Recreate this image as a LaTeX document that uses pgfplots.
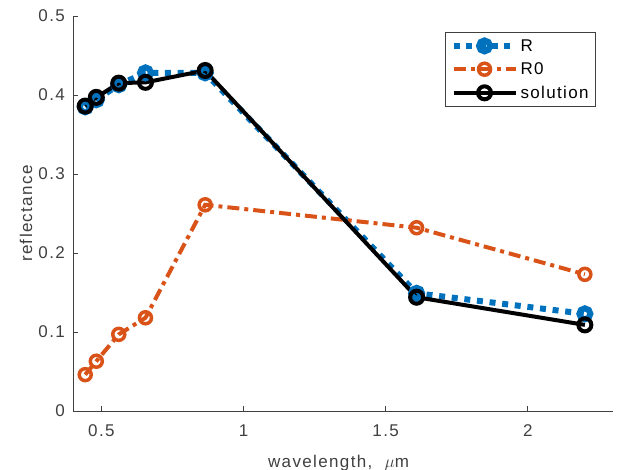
\documentclass[border=0pt]{standalone}
\usepackage{fontspec}
\setmainfont[LetterSpace=8]{Liberation Sans}
\usepackage{pgfplots}
\pgfplotsset{compat=1.18}
\definecolor{mblue}{rgb}{0,0.447,0.741}
\definecolor{morange}{rgb}{0.85,0.325,0.098}
\definecolor{axgray}{gray}{0.25}
\begin{document}
\begin{tikzpicture}
\begin{axis}[
  scale only axis, width=540pt, height=395pt,
  xmin=0.4, xmax=2.3, ymin=0, ymax=0.5,
  axis lines=left,
  axis line style={-, draw=axgray, line width=0.8pt},
  tick style={draw=axgray, line width=0.8pt},
  tick align=inside, major tick length=5pt,
  xtick={0.5,1,1.5,2}, xticklabels={0.5,1,1.5,2},
  ytick={0,0.1,0.2,0.3,0.4,0.5}, yticklabels={0,0.1,0.2,0.3,0.4,0.5},
  ticklabel style={font=\fontsize{17}{20}\selectfont, text=axgray},
  xticklabel style={anchor=base, yshift=-26pt},
  yticklabel style={anchor=east, inner xsep=0pt, xshift=-8pt},
  xlabel={wavelength,\ \ $\mu$m},
  ylabel={reflectance},
  label style={font=\fontsize{17}{20}\selectfont, text=axgray},
  xlabel style={at={(axis description cs:0.4917,-0.1418)}, anchor=base},
  ylabel style={at={(axis description cs:-0.087,0.5)}, anchor=center},
  legend style={at={(axis description cs:0.9685,0.9595)}, anchor=north east,
    draw=axgray, line width=0.7pt, font=\fontsize{17}{20}\selectfont, text=black,
    inner xsep=5pt, inner ysep=5pt, row sep=6pt},
  legend cell align=left,
  legend image code/.code={\draw[mark repeat=2,mark phase=2] plot coordinates {(0pt,0pt)(31pt,0pt)(62pt,0pt)};},
  clip=false,
]
\addplot[color=mblue, line width=6pt, dash pattern=on 6pt off 6.7pt, mark=o, mark size=5.5pt, mark options={solid, line width=6pt}]
 coordinates {(0.443,0.385)(0.482,0.394)(0.561,0.413)(0.655,0.428)(0.865,0.428)(1.609,0.149)(2.201,0.123)};
\addlegendentry{R}
\addplot[color=morange, line width=4pt, dash pattern=on 12pt off 5pt on 4pt off 5pt, mark=o, mark size=6pt, mark options={solid, line width=3.5pt}]
 coordinates {(0.443,0.046)(0.482,0.063)(0.561,0.097)(0.655,0.118)(0.865,0.261)(1.609,0.232)(2.201,0.173)};
\addlegendentry{R0}
\addplot[color=black, line width=4pt, mark=o, mark size=6.5pt, mark options={solid, line width=4pt}]
 coordinates {(0.443,0.386)(0.482,0.397)(0.561,0.415)(0.655,0.416)(0.865,0.431)(1.609,0.144)(2.201,0.109)};
\addlegendentry{solution}
\end{axis}
\pgfresetboundingbox
\path[use as bounding box] (-73pt,-59pt) rectangle (548pt,411pt);
\end{tikzpicture}
\end{document}
